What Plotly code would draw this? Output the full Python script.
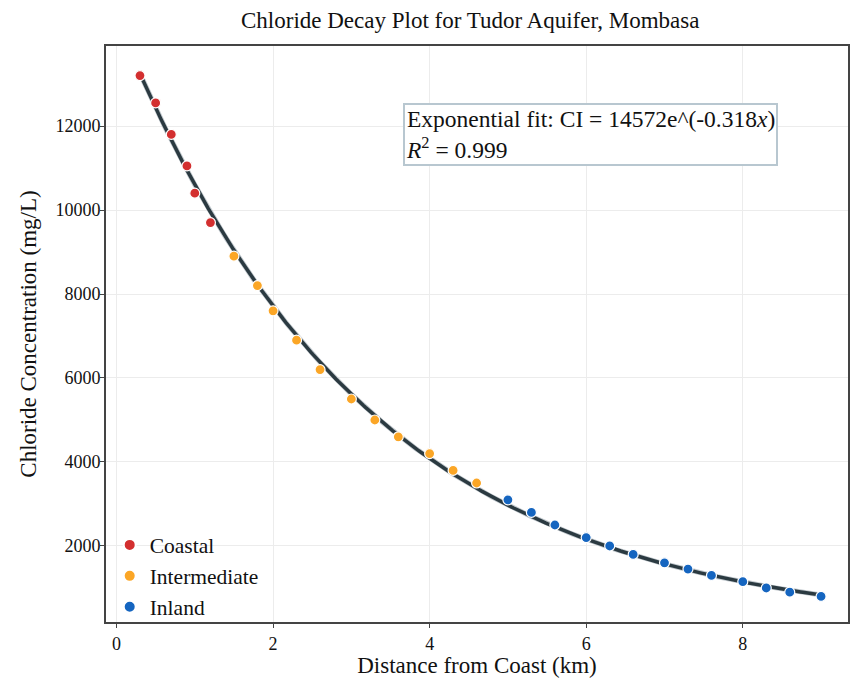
import numpy as np
import plotly.graph_objects as go

# distance from coast (km) and chloride (mg/L) per zone
coastal_x = [0.3, 0.5, 0.7, 0.9, 1.0, 1.2]
coastal_y = [13200, 12550, 11800, 11050, 10400, 9700]

inter_x = [1.5, 1.8, 2.0, 2.3, 2.6, 3.0, 3.3, 3.6, 4.0, 4.3, 4.6]
inter_y = [8900, 8200, 7600, 6900, 6200, 5500, 5000, 4600, 4200, 3800, 3500]

inland_x = [5.0, 5.3, 5.6, 6.0, 6.3, 6.6, 7.0, 7.3, 7.6, 8.0, 8.3, 8.6, 9.0]
inland_y = [3100, 2800, 2500, 2200, 2000, 1800, 1600, 1450, 1300, 1150, 1000, 900, 800]

fit_a = 14572
fit_k = 0.318
fit_r2 = 0.999

SERIF = 'Liberation Serif, Times New Roman, serif'
BIG = 23

fig = go.Figure()

xs = np.linspace(min(coastal_x), max(inland_x), 300)
fig.add_trace(go.Scatter(
    x=xs, y=fit_a * np.exp(-fit_k * xs),
    mode='lines', showlegend=False, hoverinfo='skip',
    line=dict(color='#c3cacf', width=5),
))
fig.add_trace(go.Scatter(
    x=xs, y=fit_a * np.exp(-fit_k * xs),
    mode='lines', showlegend=False,
    line=dict(color='#2b3a41', width=3.5),
))

for name, x, y, col in [
    ('Coastal', coastal_x, coastal_y, '#d32f2f'),
    ('Intermediate', inter_x, inter_y, '#fba626'),
    ('Inland', inland_x, inland_y, '#1565c0'),
]:
    fig.add_trace(go.Scatter(
        x=x, y=y, mode='markers', name=name,
        marker=dict(color=col, size=10, line=dict(color='white', width=1.2)),
    ))

fig.add_annotation(
    xref='paper', yref='paper', x=0.4005, y=0.901,
    xanchor='left', yanchor='top', align='left',
    text=f'Exponential fit: CI = {fit_a}e^(-{fit_k}<i>x</i>)<br><i>R</i><sup>2</sup> = {fit_r2}',
    showarrow=False,
    font=dict(family=SERIF, size=BIG + 0.5, color='#111'),
    bordercolor='#b8c7d0', borderwidth=2, borderpad=1,
    bgcolor='white',
)

axis_common = dict(
    showline=True, linecolor='#444', linewidth=2, mirror=True,
    ticks='outside', ticklen=4, tickcolor='#444',
    showgrid=True, gridcolor='#ececec', gridwidth=1,
    zeroline=False,
    tickfont=dict(family=SERIF, size=18, color='#111'),
)

fig.update_xaxes(
    range=[-0.134, 9.344], dtick=2,
    title=dict(text='Distance from Coast (km)', font=dict(family=SERIF, size=BIG, color='#111'), standoff=2),
    **axis_common,
)
fig.update_yaxes(
    range=[190, 13905], dtick=2000, tickformat='d', ticklabelstandoff=-4,
    title=dict(text='Chloride Concentration (mg/L)', font=dict(family=SERIF, size=BIG, color='#111'), standoff=12),
    **axis_common,
)

# page body has an 8px margin, so the figure is sized and offset for it
fig.update_layout(
    width=845, height=670,
    title=dict(text='Chloride Decay Plot for Tudor Aquifer, Mombasa',
               x=0.547, xanchor='center', y=1 - 12 / 670, yanchor='middle',
               font=dict(family=SERIF, size=BIG, color='#111')),
    paper_bgcolor='white', plot_bgcolor='white',
    margin=dict(l=98, r=3, t=38, b=56),
    legend=dict(x=0.005, y=0.08, xanchor='left', yanchor='middle',
                bgcolor='rgba(0,0,0,0)', itemsizing='constant',
                font=dict(family=SERIF, size=21.5, color='#111'),
                tracegroupgap=0),
)

fig.write_html('out.html')
